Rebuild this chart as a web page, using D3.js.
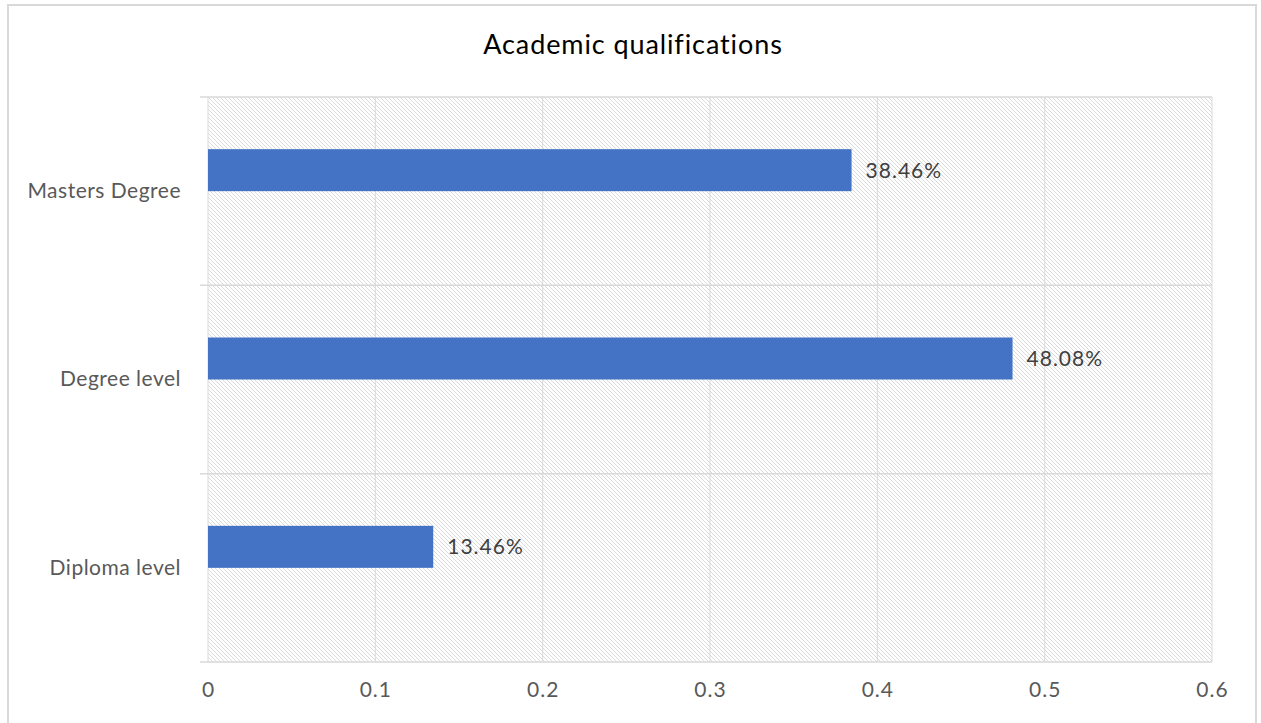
<!DOCTYPE html>
<html>
<head>
<meta charset="utf-8">
<script src="https://cdn.jsdelivr.net/npm/d3@7"></script>
<style>
  body { margin: 0; background: #fff; }
  text { font-family: Lato, "Open Sans", sans-serif; }
</style>
</head>
<body>
<div id="chart"></div>
<script>
// data
const categories = ["Masters Degree", "Degree level", "Diploma level"];
const shares = [0.3846, 0.4808, 0.1346];
const xTicks = [0, 0.1, 0.2, 0.3, 0.4, 0.5, 0.6];
const title = "Academic qualifications";

const W = 1261, H = 723;
const margin = {top: 97, right: 49, bottom: 61, left: 208};
const width = W - margin.left - margin.right;
const height = H - margin.top - margin.bottom;

const root = d3.select("#chart")
    .append("svg")
    .attr("width", W)
    .attr("height", H);

// hatch fill for plot area
const pat = root.append("defs").append("pattern")
    .attr("id", "hatch")
    .attr("patternUnits", "userSpaceOnUse")
    .attr("width", 4)
    .attr("height", 4);
pat.append("rect").attr("width", 4).attr("height", 4).attr("fill", "#fff");
pat.append("path")
    .attr("d", "M-1,-1 L5,5 M-1,3 L1,5 M3,-1 L5,1")
    .attr("stroke", "#dadada")
    .attr("stroke-width", 1);

// outer frame
root.append("rect")
    .attr("x", 8).attr("y", 5)
    .attr("width", 1248).attr("height", 740)
    .attr("fill", "none")
    .attr("stroke", "#d9d9d9")
    .attr("stroke-width", 2);

const svg = root.append("g")
    .attr("transform", "translate(" + margin.left + "," + margin.top + ")");

const x = d3.scaleLinear().domain([0, 0.6]).range([0, width]);
const y = d3.scaleBand().domain(categories).range([0, height]);

svg.append("rect")
    .attr("width", width).attr("height", height)
    .attr("fill", "url(#hatch)");

// vertical gridlines
svg.selectAll("line.grid")
    .data(xTicks)
    .enter()
    .append("line")
    .attr("class", "grid")
    .attr("x1", d => x(d)).attr("x2", d => x(d))
    .attr("y1", 0).attr("y2", height)
    .attr("stroke", "#d9d9d9")
    .attr("stroke-width", 1);

// category separators (extend left as ticks)
const seps = y.domain().map(c => y(c)).concat([height]);
svg.selectAll("line.sep")
    .data(seps)
    .enter()
    .append("line")
    .attr("class", "sep")
    .attr("x1", -8).attr("x2", width)
    .attr("y1", d => d).attr("y2", d => d)
    .attr("stroke", "#d9d9d9")
    .attr("stroke-width", 1.5);

// bars sit just above the band centre (excel single-series offset)
const barH = 42;
const mid = d => y(d) + y.bandwidth() / 2;
svg.selectAll("rect.bar")
    .data(categories)
    .enter()
    .append("rect")
    .attr("class", "bar")
    .attr("x", 0)
    .attr("y", d => mid(d) - barH)
    .attr("width", (d, i) => x(shares[i]))
    .attr("height", barH)
    .attr("fill", "#4472c4");

// data labels
svg.selectAll("text.lbl")
    .data(categories)
    .enter()
    .append("text")
    .attr("class", "lbl")
    .attr("x", (d, i) => x(shares[i]) + 14)
    .attr("y", d => mid(d) - barH / 2)
    .attr("dy", "0.35em")
    .attr("fill", "#404040")
    .style("font-size", "21px")
    .style("letter-spacing", "1px")
    .text((d, i) => (shares[i] * 100).toFixed(2) + "%");

// y axis labels
const yAxis = svg.append("g")
    .call(d3.axisLeft(y).tickSize(0).tickPadding(27));
yAxis.select(".domain").remove();
yAxis.selectAll("text")
    .attr("fill", "#595959")
    .style("font-size", "21px")
    .style("letter-spacing", "0.5px")
    .style("font-family", "Lato, 'Open Sans', sans-serif");

// x axis labels
const xAxis = svg.append("g")
    .attr("transform", "translate(0," + height + ")")
    .call(d3.axisBottom(x).tickValues(xTicks).tickSize(0).tickPadding(20)
        .tickFormat(d => d === 0 ? "0" : d3.format(".1f")(d)));
xAxis.select(".domain").remove();
xAxis.selectAll("text")
    .attr("fill", "#595959")
    .style("font-size", "21px")
    .style("letter-spacing", "1px")
    .style("font-family", "Lato, 'Open Sans', sans-serif");

// title
root.append("text")
    .attr("x", 633)
    .attr("y", 54)
    .attr("text-anchor", "middle")
    .attr("fill", "#000")
    .style("font-size", "27px")
    .style("letter-spacing", "0.9px")
    .text(title);
</script>
</body>
</html>
